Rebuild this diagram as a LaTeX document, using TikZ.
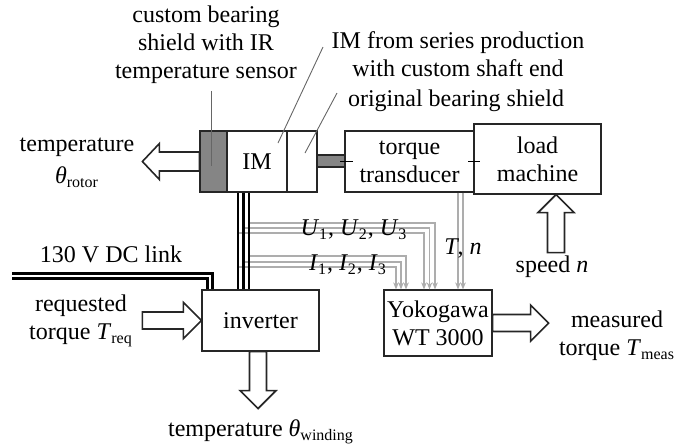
\documentclass[tikz,border=0pt]{standalone}
\usepackage{fontspec}
\setmainfont{Liberation Serif}
\usetikzlibrary{arrows.meta}
\definecolor{shieldgray}{gray}{0.52}
\definecolor{measgray}{gray}{0.68}
\definecolor{leadgray}{gray}{0.4}
\begin{document}
\begin{tikzpicture}[x=0.5pt,y=-0.5pt,
  font=\fontsize{12}{14}\selectfont,
  box/.style={draw=black!85,line width=0.6pt,inner sep=0pt},
  cable/.style={line width=1.15pt},
  meas/.style={measgray,line width=0.7pt,-{Stealth[length=3.5pt,width=2.8pt]}},
  leader/.style={leadgray,line width=0.45pt},
  fatarrow/.style={draw=black!85,fill=white,line width=0.8pt,line join=miter},
  dclink/.style={double,line width=1.3pt,double distance=1.2pt}]
  \useasboundingbox (0,0) rectangle (688,447);
  % Machine set
  \node[box,fill=shieldgray,minimum width=13.5pt,minimum height=30.5pt] (shield) at (213.5,161.5) {};
  \node[box,minimum width=30pt,minimum height=30.5pt] (im) at (257,161.5) {IM};
  \node[box,minimum width=15pt,minimum height=30.5pt] (orig) at (302,161.5) {};
  \node[box,fill=shieldgray,minimum width=14pt,minimum height=6pt] (shaft) at (331,161) {};
  \node[box,minimum width=64.5pt,minimum height=30.5pt,align=center] (trans) at (409.5,161.5) {torque\\transducer};
  \node[box,fill=white,minimum width=63.5pt,minimum height=35pt,align=center] (load) at (537.5,159) {load\\machine};
  \draw (340,161) -- (353,161);
  \draw (468,161) -- (480,161);
  % Power and measurement
  \node[box,minimum width=58.5pt,minimum height=30.5pt] (inv) at (260.5,320.5) {inverter};
  \node[box,minimum width=54pt,minimum height=33pt,align=center] (yoko) at (438,323) {Yokogawa\\WT 3000};
  % Measurement lines
  \draw[meas] (249,223) -| (435,0 |- yoko.north);
  \draw[meas] (243,228) -| (429.5,0 |- yoko.north);
  \draw[meas] (238,233) -| (424,0 |- yoko.north);
  \draw[meas] (249,256) -| (406,0 |- yoko.north);
  \draw[meas] (243,262) -| (401,0 |- yoko.north);
  \draw[meas] (238,267) -| (396,0 |- yoko.north);
  \draw[meas] (458,0 |- trans.south) -- (458,0 |- yoko.north);
  \draw[meas] (463,0 |- trans.south) -- (463,0 |- yoko.north);
  \node (ulbl) at (354,230) {\textit{U}\textsubscript{1}, \textit{U}\textsubscript{2}, \textit{U}\textsubscript{3}};
  \node (ilbl) at (348,265) {\textit{I}\textsubscript{1}, \textit{I}\textsubscript{2}, \textit{I}\textsubscript{3}};
  \node (tnlbl) at (463,248) {\textit{T}, \textit{n}};
  % Phase cables
  \foreach \cx in {238,243.5,249}
    \draw[cable] (\cx,0 |- im.south) -- (\cx,0 |- inv.north);
  % DC link
  \coordinate (dcin) at (12,276);
  \draw[dclink] (dcin) -| (210,0 |- inv.north);
  \node (dclbl) at (111,254) {130 V DC link};
  % Fat arrows
  \draw[fatarrow] (shield.west) ++(0,-9.5) -- ++(-40,0) -- ++(0,-8.5) -- ++(-17,18)
    -- ++(17,18) -- ++(0,-8.5) -- ++(40,0) -- cycle;
  \draw[fatarrow] (inv.west) -- ++(-18,-18) -- ++(0,9.5) -- ++(-41,0) -- ++(0,17)
    -- ++(41,0) -- ++(0,9.5) -- cycle;
  \draw[fatarrow] (258,0 |- inv.south) ++(-8.5,0) -- ++(0,39) -- ++(-9.5,0) -- ++(18,18)
    -- ++(18,-18) -- ++(-9.5,0) -- ++(0,-39) -- cycle;
  \draw[fatarrow] (556,0 |- load.south) -- ++(18,18) -- ++(-9.5,0) -- ++(0,40)
    -- ++(-17,0) -- ++(0,-40) -- ++(-9.5,0) -- cycle;
  \draw[fatarrow] (yoko.east) ++(0,-8.5) -- ++(38,0) -- ++(0,-9.5) -- ++(18,18)
    -- ++(-18,18) -- ++(0,-9.5) -- ++(-38,0) -- cycle;
  % Labels
  \node[align=center] (rotlbl) at (77,163) {temperature\\[2pt]\textit{θ}\textsubscript{rotor}};
  \node[align=center] (reqlbl) at (81,321) {requested\\torque \textit{T}\textsubscript{req}};
  \node (windlbl) at (261,432) {temperature \textit{θ}\textsubscript{winding}};
  \node (speedlbl) at (552,267) {speed \textit{n}};
  \node[align=center] (measlbl) at (617,336) {measured\\torque \textit{T}\textsubscript{meas}};
  \node[align=center] (shieldlbl) at (206,45) {custom bearing\\shield with IR\\temperature sensor};
  \node[align=center] (imlbl) at (458,54) {IM from series production\\with custom shaft end};
  \node (origlbl) at (456,101) {original bearing shield};
  \draw[leader] (211,0 |- shieldlbl.south) -- (211,166);
  \draw[leader] (323,47) -- (278,143);
  \draw[leader] (337,93) -- (305,153);
\end{tikzpicture}
\end{document}
